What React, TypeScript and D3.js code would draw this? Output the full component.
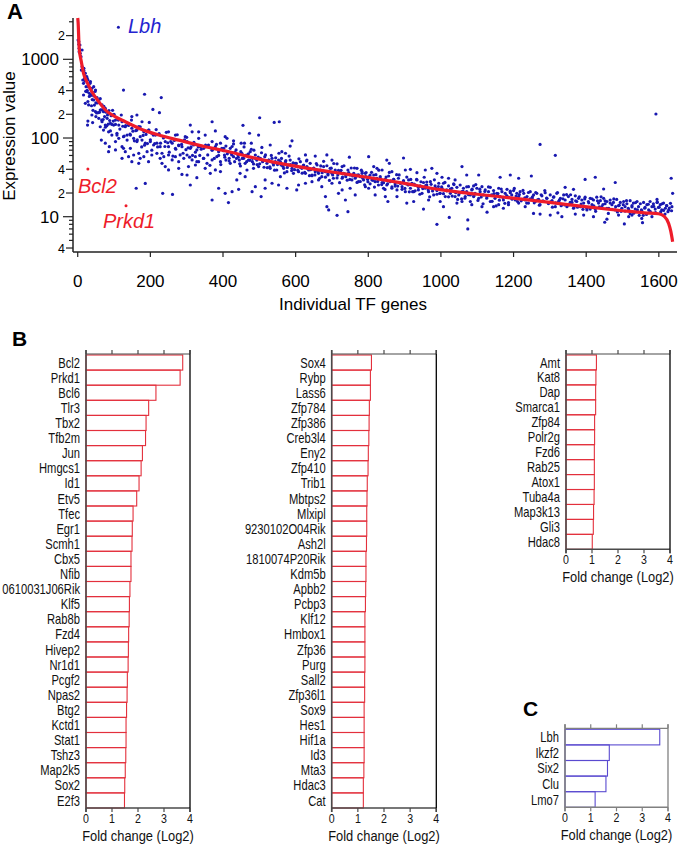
import * as d3 from "d3"

// Panel A: red line = rank-ordered expression, blue dots = second condition
const curveRank = [0, 1, 4, 10, 16, 25, 39, 58, 76, 103, 131, 168, 223, 278, 351, 398, 500, 599, 700, 801, 900, 1003, 1100, 1204, 1300, 1397, 1500, 1560, 1599, 1615, 1627, 1633, 1638]
const curveValue = [3350, 3000, 1380, 930, 665, 520, 387, 289, 227, 187, 161, 133, 109, 94, 77.5, 70, 54, 44, 37, 31.5, 26.5, 21.9, 19.3, 17.1, 15.2, 13.4, 11.9, 11.2, 10.9, 10.1, 8.2, 6.5, 4.8]

// scattered dots, [rank, value]
const blueDots: [number, number][] = [
  [3,1675],[6,1520],[4,1249],[12,1313],[15,769],[10,731],[17,717],[21,601],[26,573],[14,546],
  [1,1760],[3,1549],[4,1378],[7,1191],[9,1081],[12,807],[15,731],[17,768],[21,664],[19,573],[25,602],[28,546],
  [16,495],[23,449],[30,472],[35,520],[39,428],[44,449],[49,407],[26,388],[32,370],[38,352],[41,380],[16,352],
  [21,276],[30,263],[44,304],[53,326],[58,284],[67,263],[76,238],[62,227],[71,216],[49,216],[39,196],[50,187],
  [58,178],[85,206],[94,196],[81,178],[67,161],[76,146],[90,154],[104,169],[99,146],[113,146],[122,161],[131,139],
  [140,146],[149,133],[163,126],[172,139],[182,120],[195,126],[204,115],[214,109],[28,164],[27,146],[41,157],
  [62,139],[71,126],[85,120],[94,109],[108,115],[113,99],[126,104],[136,94],[145,109],[154,99],[163,90],[177,94],
  [186,86],[200,90],[209,81.5],[218,86],[227,77.6],[241,90],[250,77.6],[260,86],[269,74],[278,81.5],[287,77.6],
  [301,90],[310,74],[319,81.5],[328,70.5],[338,77.6],[347,74],[360,81.5],[370,70.5],[379,77.6],[388,67],[397,74],
  [65,94],[76,86],[87,77.6],[104,90],[122,77.6],[131,67],[145,74],[154,60.8],[168,63.8],[172,55.2],[182,57.9],
  [191,67],[204,60.8],[218,63.8],[227,55.2],[237,57.9],[250,60.8],[260,52.6],[269,57.9],[278,50],[292,55.2],
  [301,60.8],[315,52.6],[324,57.9],[333,50],[347,55.2],[356,47.7],[370,52.6],[383,57.9],[393,50],[85,67],[104,70.5],
  [140,57.9],[149,50],[168,47.7],[195,50],[232,47.7],[241,43.3],[250,39.3],[278,41.2],[305,43.3],[324,45.4],
  [351,41.2],[379,39.3],[393,37.4],[365,35.6],[287,34.5],[126,407],[184,360],[230,326],[207,231],[225,210],
  [163,196],[177,161],[149,187],[197,158],[310,146],[379,123],[333,120],[370,161],[161,23],[186,26.5],[234,19.8],
  [261,19.2],[370,16.3],[388,23],[301,33.9],[328,31.3],[310,25.3],[122,55.2],[126,74],
  [269,109],[296,104],[333,99],[370,90],[393,86],[250,120],[315,120],[351,109],
  [501,181],[541,158],[555,161],[455,145],[473,115],[498,109],[590,92],[585,79],[450,86],[459,86],[478,86],
  [429,92],[406,104],[411,99],[425,78],[507,76],[530,81.5],[562,67],[572,64],[627,61],[654,59],[631,52.5],
  [686,61],[700,52.5],[748,57],[801,58],[714,47],[728,43.3],[769,41.2],[783,37.3],[792,35.6],
  [415,15.1],[443,22.3],[505,18],[480,20.8],[489,24.1],[516,23],[535,26.6],[553,25.3],[576,23],[603,21.9],
  [608,25.3],[627,26.6],[645,27.9],[663,29.3],[682,18],[686,13.4],[691,12.2],[714,10.4],[744,11.6],[718,19.8],
  [728,21.9],[737,16.3],[750,23],[764,18.9],[792,24.1],[801,23],[672,24.1],[700,26.6],[406,19.8],[425,20.8],
  [438,29.3],[461,32.3],[516,29.3],[558,32.3],[447,35.6],[466,39.2],[484,41.2],
  [402,74],[404,60.8],[408,52.5],[414,67],[417,55.2],[420,47.7],[423,63.8],[429,58],[432,50],[436,70.5],
  [441,60.8],[445,52.5],[448,44.1],[452,63.8],[457,55.2],[461,47.7],[466,60.8],[470,52.5],[475,67],[481,55.2],
  [484,46.8],[489,60.8],[493,52.5],[498,43.3],[503,55.2],[509,50],[515,58],[521,47.7],[526,52.5],[530,41.2],
  [535,55.2],[539,45.4],[544,50],[548,39.2],[553,52.5],[560,45.4],[567,41.2],[572,50],[576,37.3],[581,45.4],
  [585,52.5],[590,41.2],[594,35.6],[599,47.7],[603,43.3],[608,37.3],[613,50],[617,41.2],[622,45.4],[627,35.6],
  [631,43.3],[636,39.2],[640,47.7],[645,33.9],[649,41.2],[654,37.3],[659,45.4],[663,35.6],[668,39.2],[672,32.3],
  [677,43.3],[682,37.3],[689,33.9],[695,41.2],[700,35.6],[704,30.8],[709,39.2],[716,33.9],[723,37.3],[728,30.8],
  [732,35.6],[738,32.3],[744,39.2],[750,33.9],[755,29.3],[760,35.6],[764,30.8],[769,33.9],[773,27.9],[778,32.3],
  [783,35.6],[787,29.3],[793,32.3],[799,27.9],[805,33.9],[810,29.3],
  [851,52.5],[858,47.7],[897,55.7],[824,41.2],[902,39.2],[916,40],[934,36.3],[957,39.2],[975,41.2],[989,35.6],
  [1003,31.7],[1058,43.3],[1071,33.9],[1104,33.9],[1163,31.7],[1191,33.9],[1214,30.8],[1021,30.8],[1039,29.3],
  [865,37.3],[838,39.2],[815,43.3],
  [989,8.0],[1074,9.1],[1074,7.0],[1023,9.8],[952,12.5],[906,14.9],[925,15.6],[847,18],[854,15.6],[819,18.9],
  [879,18],[966,16.3],[998,15.6],[1007,13.4],[1044,14.9],[1058,15.6],[1085,14.2],[1113,13.4],[1127,11.4],
  [1145,13.4],[1159,14.2],[1172,12.8],[1186,14.2],[1205,16.3],[1214,14.9],[1090,18],[1039,18],[1136,15.6],
  [815,33.9],[819,27.9],[824,30.8],[828,25.3],[833,32.3],[838,27.2],[842,23],[847,29.8],[851,25.3],[856,32.9],
  [860,27.9],[865,23],[870,29.8],[874,26.1],[879,21.9],[883,30.8],[888,26.6],[893,24.1],[897,28.7],[902,20.8],
  [906,26.1],[911,29.3],[916,23],[920,26.6],[925,20.8],[929,25.3],[934,29.3],[938,21.9],[943,24.6],[948,19.8],
  [952,27.2],[957,23],[961,25.3],[966,20.8],[971,27.9],[975,23],[980,18.9],[984,24.6],[989,21.5],[994,26.6],
  [998,19.8],[1003,23],[1007,26.6],[1012,18],[1016,21.9],[1021,24.6],[1026,19.8],[1030,23],[1035,26.1],
  [1039,20.8],[1044,23.6],[1049,18.9],[1053,25.3],[1058,20.8],[1062,23],[1067,18],[1071,20.8],[1076,24.1],
  [1081,18.9],[1085,21.9],[1090,24.6],[1094,19.8],[1099,23],[1104,17.1],[1108,20.8],[1113,24.1],[1117,18.9],
  [1122,21.9],[1127,18],[1131,20.8],[1136,23.6],[1140,18.9],[1145,21.5],[1149,17.1],[1154,19.8],[1159,23],
  [1163,18],[1168,20.8],[1172,16.3],[1177,19.8],[1182,22.3],[1186,17.7],[1191,20.2],[1195,18.9],[1200,21.5],
  [1205,17.1],[1209,19.8],[1214,18],[1218,20.8],[1223,16.6],
  [1273,83],[1315,60.2],[1592,202],[1634,30.8],[1638,19.8],[1249,32.9],[1397,29.8],[1425,31.7],[1480,27.2],
  [1342,23.6],[1365,22.3],[1448,22.5],[1595,16.6],[1636,13.4],
  [1451,8.5],[1457,9.3],[1505,8.1],[1553,9.5],[1555,8.4],[1255,11],[1301,10.5],[1333,10],[1370,10.8],
  [1393,10.5],[1420,10],[1489,10.5],[1517,10],[1526,10.5],[1322,11.2],[1273,10.8],[1232,13.4],
  [1228,19.8],[1232,16.3],[1237,18],[1241,14.9],[1246,20.8],[1251,17.1],[1255,18.9],[1260,15.6],[1264,19.8],
  [1269,16.6],[1273,14.2],[1278,18.4],[1283,15.6],[1287,20.2],[1292,17.1],[1296,14.9],[1301,18.9],[1306,16],
  [1310,17.7],[1315,13.4],[1319,19.8],[1324,15.6],[1329,17.1],[1333,14.2],[1338,18.9],[1342,16.3],[1347,13.4],
  [1351,18],[1356,15.2],[1361,16.6],[1365,12.8],[1370,18.4],[1374,15.6],[1379,17.1],[1384,13.4],[1388,16.3],
  [1393,14.9],[1397,17.7],[1402,12.8],[1406,15.6],[1411,17.1],[1416,14.2],[1420,16.3],[1425,12.5],[1429,17.7],
  [1434,14.9],[1439,16],[1443,13.4],[1448,17.1],[1452,14.6],[1457,15.6],[1462,12.8],[1466,16.3],[1471,14.2],
  [1475,15.2],[1480,12.2],[1484,16.6],[1489,13.8],[1494,15.2],[1498,12.8],[1503,15.6],[1507,13.4],[1512,14.6],
  [1517,12.2],[1521,16],[1526,13.8],[1530,14.9],[1535,12.5],[1540,15.6],[1544,13.4],[1549,14.6],[1553,11.9],
  [1558,15.2],[1562,13.1],[1567,14.2],[1572,12.2],[1576,15.6],[1581,13.4],[1585,14.6],[1590,12.5],[1595,15.2],
  [1599,13.1],[1604,14.2],[1608,12.2],[1613,14.9],[1618,12.8],[1622,13.8],[1627,12.2],
]

// the dense band of dots hugging the red line, [rank, value]
const blueDotsBand: [number, number][] = [
  [20,531],[22,392],[24,557],[26,404],[28,291],[30,446],[32,338],[34,495],[36,349],[38,257],
  [40,308],[42,225],[44,342],[46,262],[48,391],[50,280],[52,208],[54,279],[56,210],[58,305],
  [60,212],[62,316],[64,228],[66,169],[68,228],[70,172],[72,252],[74,187],[76,137],[78,213],
  [80,143],[82,196],[84,150],[86,223],[88,167],[90,123],[92,192],[94,149],[96,225],[98,164],
  [100,200],[104,149],[108,109],[112,169],[116,130],[120,196],[124,141],[128,106],[132,144],[136,109],
  [140,145],[144,112],[148,169],[152,122],[156,92],[160,124],[164,94.5],[168,140],[172,104],[176,77],
  [180,108],[184,81],[188,111],[192,85],[196,126],[200,95],[204,70],[208,109],[212,85],[216,128],
  [220,77],[224,114],[228,86],[232,64],[236,100],[240,78],[244,118],[248,87],[252,66],[256,90],
  [262,59],[266,93],[270,72],[274,110],[278,80],[282,61],[286,83],[290,64],[294,95],[298,71],
  [300,102],[304,75],[308,57],[312,77],[316,60],[320,88],[324,66],[328,50],[332,77],[336,60],
  [340,72],[346,55],[352,81],[358,61],[364,45],[370,70],[376,55],[382,83],[388,60],[394,46],
  [401,69],[405,57],[408,79],[412,63],[417,51],[420,74],[424,61],[429,84],[433,66],[437,55],
  [442,57],[446,47],[449,67],[453,55],[458,77],[462,60],[465,50],[470,63],[474,52],[478,72],
  [481,50],[485,70],[490,54.5],[494,46],[497,57],[501,47],[506,65],[510,52],[513,42.5],[517,61],
  [522,42],[526,52.5],[529,43],[533,60],[538,47.5],[542,39],[545,56],[550,46],[554,64],[558,50],
  [561,55],[565,43.7],[569,36],[573,51.5],[577,42.3],[582,59],[586,46],[589,38.6],[593,48.3],[597,39.6],
  [602,47.6],[606,39],[609,54.4],[613,42.5],[618,35.7],[621,44.6],[625,36.5],[630,51],[634,40.4],[638,33.2],
  [641,39.5],[645,33.2],[650,41.5],[653,34],[657,47.4],[662,37.5],[666,30.8],[669,44.2],[673,36.3],[677,50.6],
  [682,31.8],[686,44.4],[689,35.2],[693,28.9],[698,41.4],[702,34],[705,47.4],[710,37],[714,31.1],[718,38.9],
  [721,27.1],[725,38.9],[729,31.9],[733,44.4],[737,34.7],[742,29.1],[746,36.4],[749,29.8],[753,41.6],[757,33],
  [762,41.6],[766,32.5],[769,27.3],[773,34.1],[778,28],[781,39],[785,30.9],[790,25.4],[794,36.4],[798,29.9],
  [801,32],[805,26.2],[809,36.6],[813,29],[817,23.8],[821,34.2],[826,28.1],[829,39],[833,30.5],[837,25.6],
  [842,27.1],[846,22.2],[849,31.9],[853,26.2],[858,36.5],[862,28.5],[865,23.9],[870,29.9],[874,24.5],[878,34.2],
  [881,24.5],[885,34],[889,26.6],[893,22.3],[897,27.9],[901,22.9],[906,31.9],[910,25.3],[913,20.7],[917,29.8],
  [922,20.8],[926,26],[929,21.3],[933,29.8],[938,23.6],[942,19.3],[945,27.8],[950,22.8],[954,31.7],[958,24.8],
  [961,27.6],[965,21.9],[969,17.9],[973,25.8],[977,21.2],[982,29.4],[986,23],[989,19.3],[993,24.2],[997,19.8],
  [1002,23.9],[1007,19.6],[1011,27.3],[1016,21.3],[1021,17.9],[1026,22.4],[1031,18.3],[1036,25.6],[1041,20.2],[1046,16.6],
  [1052,20],[1057,16.8],[1061,21],[1066,17.2],[1071,24],[1076,19],[1081,15.6],[1086,22.4],[1091,18.4],[1096,25.6],
  [1102,16.1],[1107,22.4],[1111,17.8],[1116,14.6],[1121,20.9],[1126,17.2],[1131,23.9],[1136,18.7],[1141,15.7],[1146,19.6],
  [1152,13.7],[1157,19.7],[1161,16.2],[1166,22.5],[1171,17.6],[1176,14.8],[1181,18.5],[1186,15.1],[1191,21.1],[1196,16.7],
  [1202,22.9],[1207,18.3],[1211,15.6],[1216,19.1],[1221,15.9],[1226,21.6],[1231,17.4],[1236,14.9],[1241,20.3],[1246,16.9],
  [1252,17.9],[1257,15],[1261,20.3],[1266,16.4],[1271,14],[1276,19],[1281,15.9],[1286,21.5],[1291,17.2],[1296,14.7],
  [1302,15.4],[1307,13.2],[1311,17.9],[1316,15],[1321,20.3],[1326,16.2],[1331,13.8],[1336,16.9],[1341,14.1],[1346,19.1],
  [1352,14.1],[1357,19],[1361,15.2],[1366,13],[1371,15.9],[1376,13.2],[1381,17.9],[1386,14.5],[1391,12.4],[1396,16.8],
  [1402,12.2],[1407,15],[1411,12.5],[1416,16.9],[1421,13.7],[1426,11.7],[1431,15.9],[1436,13.3],[1441,17.9],[1446,14.3],
  [1452,15.9],[1457,12.8],[1461,11],[1466,14.9],[1471,12.4],[1476,16.8],[1481,13.4],[1486,11.5],[1491,14],[1496,11.7],
  [1502,14.2],[1507,11.8],[1511,16],[1516,12.8],[1521,10.9],[1526,13.3],[1531,11.1],[1536,15.1],[1541,12.2],[1546,10.4],
  [1552,12.2],[1557,10.4],[1561,12.8],[1566,10.7],[1571,14.4],[1576,11.7],[1581,10],[1586,13.5],[1591,11.3],[1596,15.3],
  [1601,13.2],[1605,11.5],[1609,14.6],[1613,12],[1617,10.8],[1621,13.8],[1625,11.6],[1629,12.9],[1632,14.8],[1635,11.9],
]

const lbhPoint: [number, number] = [112, 2550]
const bcl2Point: [number, number] = [28, 40.4]
const prkd1Point: [number, number] = [133, 13.8]

const rankTicks = [0, 200, 400, 600, 800, 1000, 1200, 1400, 1600]
const exprMajorTicks = [10, 100, 1000]

// Panel B
const genesB1 = ["Bcl2", "Prkd1", "Bcl6", "Tlr3", "Tbx2", "Tfb2m", "Jun", "Hmgcs1", "Id1", "Etv5", "Tfec", "Egr1", "Scmh1", "Cbx5", "Nfib", "0610031J06Rik", "Klf5", "Rab8b", "Fzd4", "Hivep2", "Nr1d1", "Pcgf2", "Npas2", "Btg2", "Kctd1", "Stat1", "Tshz3", "Map2k5", "Sox2", "E2f3"]
const foldB1 = [3.72, 3.62, 2.69, 2.41, 2.31, 2.29, 2.17, 2.12, 2.04, 1.95, 1.81, 1.78, 1.77, 1.73, 1.73, 1.69, 1.67, 1.66, 1.64, 1.63, 1.62, 1.59, 1.58, 1.56, 1.54, 1.54, 1.53, 1.51, 1.49, 1.48]

const genesB2 = ["Sox4", "Rybp", "Lass6", "Zfp784", "Zfp386", "Creb3l4", "Eny2", "Zfp410", "Trib1", "Mbtps2", "Mlxipl", "9230102O04Rik", "Ash2l", "1810074P20Rik", "Kdm5b", "Apbb2", "Pcbp3", "Klf12", "Hmbox1", "Zfp36", "Purg", "Sall2", "Zfp36l1", "Sox9", "Hes1", "Hif1a", "Id3", "Mta3", "Hdac3", "Cat"]
const foldB2 = [1.52, 1.48, 1.48, 1.44, 1.43, 1.42, 1.4, 1.39, 1.36, 1.35, 1.34, 1.34, 1.33, 1.31, 1.31, 1.3, 1.29, 1.27, 1.27, 1.27, 1.27, 1.26, 1.26, 1.24, 1.24, 1.24, 1.24, 1.23, 1.21, 1.21]

const genesB3 = ["Amt", "Kat8", "Dap", "Smarca1", "Zfp84", "Polr2g", "Fzd6", "Rab25", "Atox1", "Tuba4a", "Map3k13", "Gli3", "Hdac8"]
const foldB3 = [1.17, 1.15, 1.14, 1.14, 1.1, 1.1, 1.09, 1.09, 1.09, 1.08, 1.06, 1.05, 1.01]

// Panel C
const genesC = ["Lbh", "Ikzf2", "Six2", "Clu", "Lmo7"]
const foldC = [3.68, 1.72, 1.65, 1.59, 1.17]

const foldTicks = [0, 1, 2, 3, 4]

const FONT = "'Liberation Sans', Arial, Helvetica, sans-serif"
const RED = "#ee1c2a"
const BLUE = "#1818b0"

function BarPanel({ genes, values, x0, x1, top, bottom, stroke, axis, edge }: any) {
  const x = d3.scaleLinear().domain([0, 4]).range([x0, x1])
  const y = d3.scaleBand().domain(genes).range([top + 1, bottom]).padding(0)
  return (
    <g fontFamily={FONT}>
      {genes.map((g: string, i: number) => (
        <g key={g}>
          <rect x={x(0)} y={y(g)} width={x(values[i]) - x(0)} height={y.bandwidth()} fill="none" stroke={stroke} strokeWidth={1.1} />
          <text transform={`translate(${x0 - 6},${(y(g) as number) + y.bandwidth() / 2}) scale(0.8,1)`} dy="0.36em" textAnchor="end" fontSize={14} fill="#111">{g}</text>
        </g>
      ))}
      <line x1={x0} x2={x1} y1={top} y2={top} stroke={axis} strokeWidth={1.2} />
      <line x1={x0} x2={x1} y1={bottom} y2={bottom} stroke={axis} strokeWidth={1.4} />
      <line x1={x0} x2={x0} y1={top - 4} y2={bottom + 4} stroke={axis} strokeWidth={1.6} />
      <line x1={x1} x2={x1} y1={top - 4} y2={bottom + 4} stroke={edge} strokeWidth={1.3} />
      {foldTicks.map((t) => (
        <g key={t}>
          <line x1={x(t)} x2={x(t)} y1={top - 4} y2={top} stroke={axis} strokeWidth={1.2} />
          <line x1={x(t)} x2={x(t)} y1={bottom} y2={bottom + 4} stroke={axis} strokeWidth={1.2} />
          <text transform={`translate(${x(t)},${bottom + 15}) scale(0.85,1)`} textAnchor="middle" fontSize={12.5} fill="#111">{t}</text>
        </g>
      ))}
      <text transform={`translate(${(x0 + x1) / 2},${bottom + 33}) scale(0.92,1)`} textAnchor="middle" fontSize={14} fill="#111">Fold change (Log2)</text>
    </g>
  )
}

export default function App() {
  const x = d3.scaleLinear().domain([-13, 1650]).range([73, 677])
  const y = d3.scaleLog().domain([3.56, 3350]).range([252, 18])
  const line = d3.line<number>().x((d, i) => x(curveRank[i])).y((d) => y(d)).curve(d3.curveMonotoneX)
  const yTicks = y.ticks().filter((t) => t >= 3.56 && t <= 3350)
  const lead = (t: number) => Math.round(t / Math.pow(10, Math.floor(Math.log10(t) + 1e-9)))
  const allDots = blueDots.concat(blueDotsBand)

  return (
    <svg width={678} height={845} style={{ position: "absolute", left: 0, top: 0, background: "#fff" }} fontFamily={FONT}>
      <text x={7} y={19} fontSize={22} fontWeight="bold">A</text>
      <text x={12} y={346} fontSize={21} fontWeight="bold">B</text>
      <text x={523} y={716} fontSize={21} fontWeight="bold">C</text>

      {/* Panel A axes */}
      <line x1={73} x2={73} y1={18} y2={252} stroke="#222" strokeWidth={1.5} />
      <line x1={73} x2={677} y1={252} y2={252} stroke="#222" strokeWidth={1.5} />
      {yTicks.map((t) => {
        const m = lead(t)
        const major = exprMajorTicks.includes(t)
        const len = major ? 10 : m === 2 || m === 4 ? 7 : 4
        return (
          <g key={t}>
            <line x1={73 - len} x2={73} y1={y(t)} y2={y(t)} stroke="#222" strokeWidth={1.2} />
            {major && <text x={59} y={y(t)} dy="0.36em" textAnchor="end" fontSize={17}>{t}</text>}
            {!major && (m === 2 || m === 4) && <text x={65} y={y(t)} dy="0.36em" textAnchor="end" fontSize={12.5}>{m}</text>}
          </g>
        )
      })}
      {rankTicks.map((t) => (
        <g key={t}>
          <line x1={x(t)} x2={x(t)} y1={252} y2={257} stroke="#222" strokeWidth={1.2} />
          <text x={x(t)} y={286.5} textAnchor="middle" fontSize={17}>{t}</text>
        </g>
      ))}
      <text x={353} y={310} textAnchor="middle" fontSize={17}>Individual TF genes</text>
      <text transform="translate(15,136) rotate(-90)" textAnchor="middle" fontSize={17}>Expression value</text>

      {/* Panel A marks */}
      {allDots.map((d, i) => (
        <circle key={i} cx={x(d[0])} cy={y(d[1])} r={1.6} fill={BLUE} />
      ))}
      <path d={line(curveValue) || ""} fill="none" stroke={RED} strokeWidth={3.2} strokeLinejoin="round" />
      <circle cx={x(lbhPoint[0])} cy={y(lbhPoint[1])} r={1.5} fill={BLUE} />
      <circle cx={x(bcl2Point[0])} cy={y(bcl2Point[1])} r={1.5} fill={RED} />
      <circle cx={x(prkd1Point[0])} cy={y(prkd1Point[1])} r={1.5} fill={RED} />
      <text x={128} y={33} fontSize={20} fontStyle="italic" fill="#2424d0">Lbh</text>
      <text x={78} y={192.5} fontSize={20} fontStyle="italic" fill={RED}>Bcl2</text>
      <text x={103} y={227.5} fontSize={20} fontStyle="italic" fill={RED}>Prkd1</text>

      {/* Panel B */}
      <BarPanel genes={genesB1} values={foldB1} x0={86} x1={190} top={354} bottom={808} stroke="#e3303c" axis="#4a4a4a" edge="#000" />
      <BarPanel genes={genesB2} values={foldB2} x0={331.7} x1={436.3} top={354} bottom={808} stroke="#e3303c" axis="#4a4a4a" edge="#000" />
      <BarPanel genes={genesB3} values={foldB3} x0={566} x1={670} top={354} bottom={549.3} stroke="#e3303c" axis="#4a4a4a" edge="#000" />

      {/* Panel C */}
      <BarPanel genes={genesC} values={foldC} x0={565} x1={668} top={728.3} bottom={807.3} stroke="#5a4ad0" axis="#808080" edge="#808080" />
    </svg>
  )
}
